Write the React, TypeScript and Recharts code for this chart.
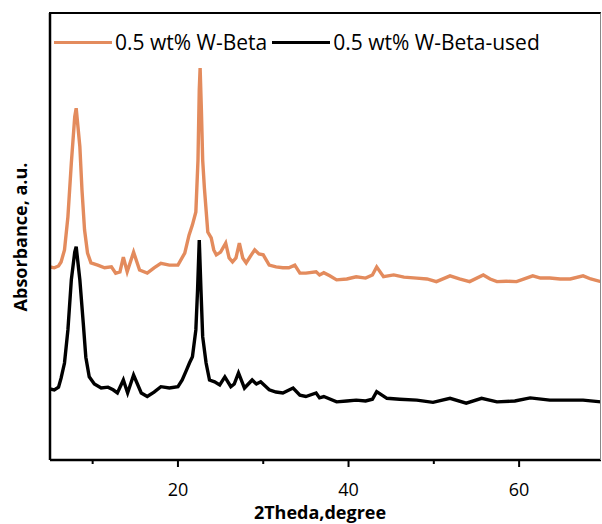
import React from "react";
import { LineChart, Line, XAxis, YAxis, Legend } from "recharts";

const FONT = "'Open Sans', 'Liberation Sans', sans-serif";

// 0.5 wt% W-Beta (fresh)
const freshTheta = [
  5.0, 5.5, 6.0, 6.3, 6.7, 7.1, 7.5, 7.9, 8.07, 8.5, 8.75, 9.05, 9.4, 9.8,
  10.6, 11.4, 12.2, 12.7, 13.2, 13.6, 14.05, 14.8, 15.5, 16.4, 17.2, 18, 19,
  20, 20.8, 21.3, 21.7, 22.1, 22.35, 22.5, 22.6, 22.75, 22.9, 23.1, 23.5,
  23.9, 24.2, 24.5, 25.0, 25.6, 26.0, 26.4, 26.8, 27.2, 27.6, 28.0, 28.6,
  29.0, 29.5, 30.0, 30.7, 31.5, 32.3, 33.0, 33.7, 34.3, 35, 36.2, 36.6, 37.1,
  37.8, 38.6, 39.8, 40.9, 42.0, 42.8, 43.3, 44.1, 45.3, 46.5, 48, 49.2, 50.3,
  51.9, 53, 54.2, 55.8, 56.6, 57.4, 58.5, 59.7, 60.6, 61.6, 62.5, 63.6, 64.8,
  66, 67.5, 68.4, 69.6,
];
const freshAbs = [
  43.2, 43.0, 43.4, 44.3, 47.0, 54.4, 66.4, 76.8, 78.7, 70.1, 60.4, 51.5, 46.3,
  44.1, 43.6, 43.0, 43.2, 41.8, 42.1, 45.4, 42.1, 46.5, 42.5, 41.8, 43.0, 44.0,
  43.6, 43.6, 46.3, 50.3, 52.6, 55.5, 67.1, 82.8, 87.7, 78.3, 67.1, 60.9, 51.0,
  49.7, 47.0, 45.9, 46.5, 48.5, 45.2, 44.3, 45.2, 48.5, 45.2, 44.1, 45.9, 47.0,
  46.1, 45.9, 43.6, 43.2, 43.0, 43.0, 43.6, 41.8, 41.8, 42.1, 41.4, 41.9, 41.2,
  40.3, 40.5, 41.0, 40.7, 41.4, 43.2, 41.0, 41.4, 40.9, 40.7, 40.5, 39.9, 41.2,
  40.5, 39.9, 41.4, 40.5, 39.9, 40.0, 39.9, 40.5, 41.2, 40.7, 40.7, 40.5, 40.5,
  41.2, 40.5, 39.9,
];

// 0.5 wt% W-Beta-used
const usedTheta = [
  5.0, 5.5, 6.0, 6.3, 6.7, 7.1, 7.5, 7.9, 8.07, 8.5, 8.9, 9.2, 9.6, 10.2, 11.0,
  11.8, 12.4, 12.9, 13.6, 14.1, 14.8, 15.7, 16.4, 17.2, 18, 19, 20, 20.5, 21.0,
  21.35, 21.7, 22.1, 22.3, 22.5, 22.7, 22.9, 23.3, 23.7, 24.3, 24.9, 25.5,
  26.2, 26.6, 27.1, 27.8, 28.7, 29.2, 29.7, 30.7, 31.5, 32.3, 33.5, 34.3, 35,
  36.2, 36.6, 37.1, 38.6, 39.8, 40.9, 42.0, 42.8, 43.3, 44.5, 46, 48, 49.9,
  51.9, 53.8, 55.6, 57.4, 59.5, 61.3, 63.6, 65.5, 67.5, 69.6,
];
const usedAbs = [
  15.9, 15.7, 16.3, 18.3, 21.7, 29.1, 40.3, 46.5, 47.7, 40.3, 30.6, 23.0, 18.6,
  17.0, 16.1, 16.3, 15.7, 15.0, 17.9, 15.0, 19.0, 15.0, 14.2, 15.2, 16.4, 16.1,
  16.4, 17.9, 20.1, 21.7, 23.1, 29.1, 38.0, 49.2, 38.0, 27.6, 21.7, 17.9, 17.5,
  16.8, 18.6, 16.4, 17.0, 19.5, 16.1, 17.9, 17.0, 17.5, 15.7, 15.2, 15.0, 16.1,
  14.5, 14.2, 15.0, 13.9, 14.2, 13.0, 13.2, 13.4, 13.2, 13.6, 15.3, 13.8, 13.6,
  13.4, 12.9, 13.8, 12.7, 13.8, 13.0, 13.2, 13.9, 13.4, 13.4, 13.4, 13.0,
];

const majorTicks = [20, 40, 60];
const allTicks = [10, 20, 30, 40, 50, 60];
const xDomain = [5, 69.6];
const yDomain = [0, 100];

const freshData = freshTheta.map((t, i) => ({ t, v: freshAbs[i] }));
const usedData = usedTheta.map((t, i) => ({ t, v: usedAbs[i] }));

const series = [
  { name: "0.5 wt% W-Beta", color: "#E38B5D", data: freshData },
  { name: "0.5 wt% W-Beta-used", color: "#000000", data: usedData },
];

const W = 602;
const H = 524;
const MARGIN = { top: 13, right: 1, left: 0, bottom: 0 };
const Y_AXIS_W = 50;
const X_AXIS_H = 64;

function XTick(props: any) {
  const { x, y, payload } = props;
  const major = majorTicks.includes(payload.value);
  // y arrives as axis line + tickSize(0) + tickMargin(0)
  return (
    <g>
      <line
        x1={x}
        x2={x}
        y1={y}
        y2={y + (major ? 7 : 4)}
        stroke="#000"
        strokeWidth={2}
      />
      {major && (
        <text
          x={x}
          y={y + 36}
          textAnchor="middle"
          fontFamily={FONT}
          fontSize={18}
          fill="#000"
        >
          {payload.value}
        </text>
      )}
    </g>
  );
}

function LegendBox() {
  return (
    <div
      style={{
        display: "flex",
        alignItems: "center",
        fontFamily: FONT,
        fontSize: 21,
        color: "#000",
        whiteSpace: "nowrap",
      }}
    >
      {series.map((s) => (
        <span key={s.name} style={{ display: "flex", alignItems: "center", marginRight: 5 }}>
          <span
            style={{
              display: "inline-block",
              width: 58,
              height: 3,
              background: s.color,
              marginRight: 3,
            }}
          />
          <span>{s.name}</span>
        </span>
      ))}
    </div>
  );
}

export default function App() {
  const plotLeft = MARGIN.left + Y_AXIS_W;
  const plotW = W - MARGIN.right - plotLeft;
  const plotH = H - MARGIN.top - X_AXIS_H - MARGIN.bottom;
  return (
    <div style={{ position: "absolute", left: 0, top: 0, width: W, height: H, background: "#fff" }}>
      <LineChart width={W} height={H} margin={MARGIN}>
        <XAxis
          dataKey="t"
          type="number"
          domain={xDomain}
          ticks={allTicks}
          interval={0}
          allowDataOverflow
          height={X_AXIS_H}
          tickSize={0}
          tickMargin={0}
          tickLine={false}
          axisLine={{ stroke: "#000", strokeWidth: 2.5 }}
          tick={<XTick />}
          label={{
            content: () => (
              <text
                x={320}
                y={519}
                textAnchor="middle"
                fontFamily={FONT}
                fontSize={18}
                fontWeight="bold"
                fill="#000"
              >
                2Theda,degree
              </text>
            ),
          }}
        />
        <YAxis
          type="number"
          domain={yDomain}
          width={Y_AXIS_W}
          tick={false}
          tickLine={false}
          axisLine={{ stroke: "#000", strokeWidth: 2.5 }}
          label={{
            content: () => (
              <text
                transform="translate(27,237) rotate(-90)"
                textAnchor="middle"
                fontFamily={FONT}
                fontSize={18}
                fontWeight="bold"
                fill="#000"
              >
                Absorbance, a.u.
              </text>
            ),
          }}
        />
        <Legend
          layout="horizontal"
          verticalAlign="middle"
          align="center"
          content={<LegendBox />}
          wrapperStyle={{ top: 28, left: 54, width: "auto" }}
        />
        {series.map((s) => (
          <Line
            key={s.name}
            data={s.data}
            dataKey="v"
            name={s.name}
            type="linear"
            stroke={s.color}
            strokeWidth={3.4}
            dot={false}
            isAnimationActive={false}
          />
        ))}
      </LineChart>
      {/* top and right edges of the plot frame */}
      <div
        style={{
          position: "absolute",
          left: plotLeft - 1,
          top: MARGIN.top - 1,
          width: plotW + 1,
          height: plotH + 1,
          boxSizing: "border-box",
          borderTop: "2.5px solid #000",
          borderRight: "1.5px solid #888",
          pointerEvents: "none",
          zIndex: 2,
        }}
      />
    </div>
  );
}
